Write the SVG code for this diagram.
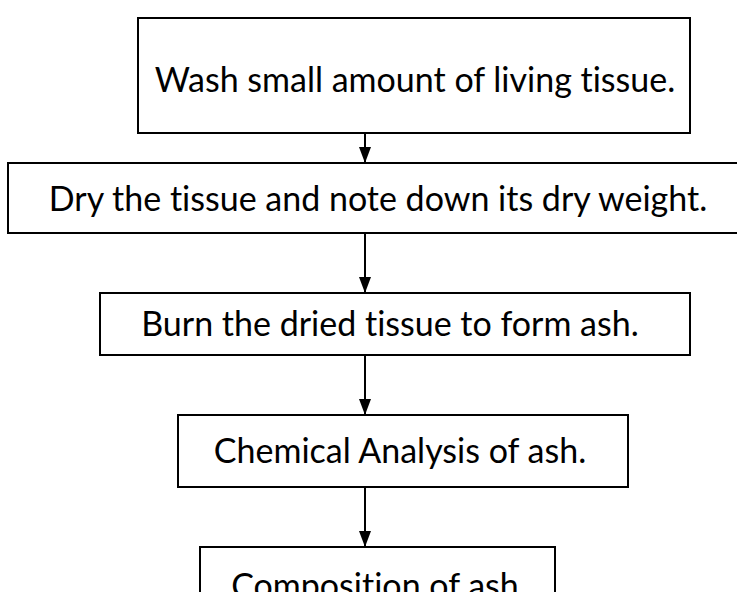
<svg xmlns="http://www.w3.org/2000/svg" width="737" height="592" viewBox="0 0 737 592">
<style>
.box{fill:#fff;stroke:#000;stroke-width:2}
.t{font-family:Lato,"Open Sans","Liberation Sans",sans-serif;font-size:34px;fill:#000;text-anchor:middle;font-variant-ligatures:none}
.c{stroke:#000;stroke-width:2;fill:none;marker-end:url(#ah)}
</style>
<defs>
<marker id="ah" markerWidth="16" markerHeight="12" refX="16" refY="6" orient="auto" markerUnits="userSpaceOnUse" viewBox="0 0 16 12">
<path d="M0,0 L16,6 L0,12 z" fill="#000"/>
</marker>
</defs>
<rect width="737" height="592" fill="#fff"/>
<g id="connectors">
<line class="c" x1="365" y1="133" x2="365" y2="163"/>
<line class="c" x1="365" y1="233" x2="365" y2="293"/>
<line class="c" x1="365" y1="355" x2="365" y2="415"/>
<line class="c" x1="365" y1="487" x2="365" y2="547"/>
</g>
<g id="n1"><rect class="box" x="138" y="18" width="552" height="115"/><text class="t" x="415" y="92">Wash small amount of living tissue.</text></g>
<g id="n2"><rect class="box" x="8" y="163" width="740" height="70"/><text class="t" x="378" y="211">Dry the tissue and note down its dry weight.</text></g>
<g id="n3"><rect class="box" x="100" y="293" width="590" height="62"/><text class="t" x="390" y="336">Burn the dried tissue to form ash.</text></g>
<g id="n4"><rect class="box" x="178" y="415" width="450" height="72"/><text class="t" x="400" y="463">Chemical Analysis of ash.</text></g>
<g id="n5"><rect class="box" x="200" y="547" width="355" height="60"/><text class="t" x="379" y="598">Composition of ash.</text></g>
</svg>
